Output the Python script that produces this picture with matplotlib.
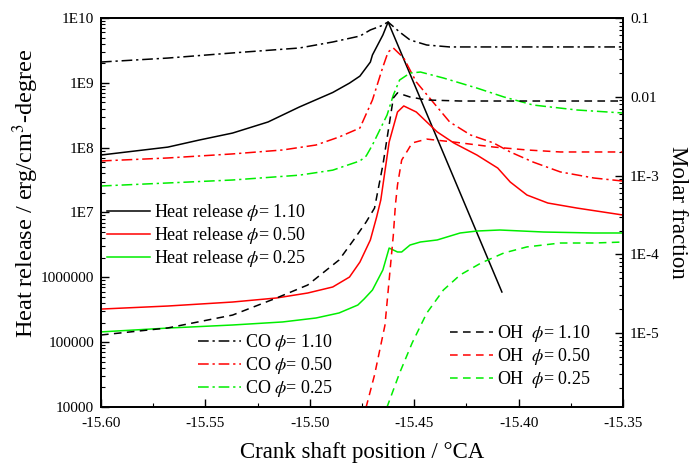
import matplotlib
matplotlib.use("Agg")
import matplotlib.pyplot as plt
from matplotlib.ticker import FixedLocator, FixedFormatter, LogLocator, NullFormatter, MultipleLocator

plt.rcParams['font.family'] = ['Liberation Serif', 'DejaVu Serif']
plt.rcParams['mathtext.fontset'] = 'stix'

# ---- heat release (left axis, erg/cm3-degree) ----
hr110_x = [-15.600, -15.568, -15.553, -15.537, -15.520, -15.505, -15.489, -15.481,
           -15.476, -15.471, -15.470, -15.465, -15.4625, -15.408]
hr110_y = [7.7e7, 1.02e8, 1.31e8, 1.68e8, 2.49e8, 4.24e8, 7.1e8, 9.9e8,
           1.27e9, 2.09e9, 2.69e9, 5.47e9, 8.67e9, 5.94e5]

hr050_x = [-15.600, -15.568, -15.537, -15.516, -15.501, -15.489, -15.481, -15.476,
           -15.471, -15.468, -15.466, -15.462, -15.458, -15.455, -15.449, -15.439,
           -15.431, -15.420, -15.410, -15.404, -15.396, -15.386, -15.372, -15.350]
hr050_y = [3.24e5, 3.61e5, 4.16e5, 4.80e5, 5.73e5, 7.10e5, 1.01e6, 1.72e6,
           3.77e6, 8.51e6, 1.56e7, 1.22e8, 3.55e8, 4.40e8, 3.55e8, 1.75e8,
           1.18e8, 7.71e7, 4.85e7, 2.95e7, 1.86e7, 1.40e7, 1.17e7, 9.14e6]

hr025_x = [-15.600, -15.568, -15.537, -15.513, -15.497, -15.486, -15.477, -15.474,
           -15.470, -15.465, -15.462, -15.458, -15.456, -15.452, -15.447, -15.439,
           -15.428, -15.420, -15.409, -15.388, -15.364, -15.350]
hr025_y = [1.44e5, 1.65e5, 1.84e5, 2.05e5, 2.36e5, 2.82e5, 3.74e5, 4.63e5,
           6.37e5, 1.30e6, 2.83e6, 2.46e6, 2.46e6, 3.15e6, 3.51e6, 3.77e6,
           4.83e6, 5.18e6, 5.37e6, 5.0e6, 4.83e6, 4.83e6]

# ---- CO molar fraction (right axis) ----
co110_x = [-15.600, -15.568, -15.537, -15.505, -15.489, -15.476, -15.471, -15.466,
           -15.4625, -15.457, -15.452, -15.444, -15.433, -15.412, -15.350]
co110_y = [0.0276, 0.0310, 0.0360, 0.0416, 0.0496, 0.0590, 0.0705, 0.0791,
           0.0889, 0.0664, 0.0526, 0.0454, 0.0429, 0.0429, 0.0429]

co050_x = [-15.600, -15.568, -15.537, -15.513, -15.497, -15.486, -15.476, -15.470,
           -15.465, -15.4625, -15.460, -15.455, -15.449, -15.441, -15.433, -15.423,
           -15.412, -15.404, -15.393, -15.380, -15.364, -15.350]
co050_y = [1.53e-3, 1.67e-3, 1.88e-3, 2.11e-3, 2.44e-3, 3.08e-3, 4.01e-3, 9.1e-3,
           2.39e-2, 3.70e-2, 4.16e-2, 3.10e-2, 1.54e-2, 8.57e-3, 4.78e-3, 3.27e-3,
           2.59e-3, 1.99e-3, 1.48e-3, 1.11e-3, 9.3e-4, 8.5e-4]

co025_x = [-15.600, -15.568, -15.537, -15.505, -15.489, -15.479, -15.476, -15.473,
           -15.470, -15.463, -15.460, -15.457, -15.452, -15.447, -15.436, -15.420,
           -15.407, -15.393, -15.372, -15.350]
co025_y = [7.36e-4, 8.04e-4, 8.77e-4, 1.01e-3, 1.17e-3, 1.44e-3, 1.53e-3, 1.77e-3,
           2.44e-3, 5.86e-3, 1.05e-2, 1.63e-2, 2.00e-2, 2.06e-2, 1.73e-2, 1.29e-2,
           9.93e-3, 7.85e-3, 6.79e-3, 6.22e-3]

# ---- OH molar fraction (right axis) ----
oh110_x = [-15.600, -15.568, -15.537, -15.516, -15.501, -15.486, -15.479, -15.473,
           -15.469, -15.465, -15.462, -15.460, -15.458, -15.452, -15.444, -15.428, -15.350]
oh110_y = [9.44e-6, 1.16e-5, 1.69e-5, 2.78e-5, 4.07e-5, 8.45e-5, 1.52e-4, 2.57e-4,
           3.86e-4, 1.36e-3, 4.38e-3, 9.64e-3, 1.12e-2, 9.93e-3, 9.10e-3, 8.83e-3, 8.83e-3]

oh050_x = [-15.475, -15.473, -15.469, -15.464, -15.462, -15.460, -15.459, -15.458,
           -15.456, -15.453, -15.451, -15.444, -15.431, -15.412, -15.396, -15.380, -15.350]
oh050_y = [7.85e-7, 1.15e-6, 2.93e-6, 1.26e-5, 4.71e-5, 1.75e-4, 4.22e-4, 7.57e-4,
           1.57e-3, 2.11e-3, 2.59e-3, 2.90e-3, 2.66e-3, 2.30e-3, 2.11e-3, 1.99e-3, 1.99e-3]

oh025_x = [-15.465, -15.463, -15.457, -15.451, -15.444, -15.436, -15.428, -15.418,
           -15.407, -15.396, -15.380, -15.364, -15.350]
oh025_y = [7.85e-7, 1.15e-6, 3.10e-6, 7.46e-6, 1.79e-5, 3.52e-5, 5.46e-5, 7.74e-5,
           1.04e-4, 1.24e-4, 1.39e-4, 1.39e-4, 1.43e-4]

left_ticks = [1e4, 1e5, 1e6, 1e7, 1e8, 1e9, 1e10]
left_labels = ['10000', '100000', '1000000', '1E7', '1E8', '1E9', '1E10']
right_ticks = [1e-5, 1e-4, 1e-3, 1e-2, 1e-1]
right_labels = ['1E-5', '1E-4', '1E-3', '0.01', '0.1']

BLACK, RED, GREEN = 'black', '#ff0000', '#00ee00'
DASHDOT = (0, (7, 2.5, 1.5, 2.5))
DASHED = (0, (5, 3.5))

fig = plt.figure(figsize=(6.92, 4.63), dpi=100)
ax = fig.add_axes([101 / 692, 1 - 407 / 463, 522 / 692, 389 / 463])
ax2 = ax.twinx()

lw = 1.1
h1, = ax.plot(hr110_x, hr110_y, color=BLACK, lw=lw)
h2, = ax.plot(hr050_x, hr050_y, color=RED, lw=lw)
h3, = ax.plot(hr025_x, hr025_y, color=GREEN, lw=lw)

c1, = ax2.plot(co110_x, co110_y, color=BLACK, lw=lw, ls=DASHDOT)
c2, = ax2.plot(co050_x, co050_y, color=RED, lw=lw, ls=DASHDOT)
c3, = ax2.plot(co025_x, co025_y, color=GREEN, lw=lw, ls=DASHDOT)

o1, = ax2.plot(oh110_x, oh110_y, color=BLACK, lw=lw, ls=DASHED)
o2, = ax2.plot(oh050_x, oh050_y, color=RED, lw=lw, ls=DASHED)
o3, = ax2.plot(oh025_x, oh025_y, color=GREEN, lw=lw, ls=DASHED)

ax.set_xlim(-15.60, -15.35)
ax.set_yscale('log')
ax.set_ylim(1e4, 1e10)
ax2.set_yscale('log')
ax2.set_ylim(1.15e-6, 0.1)

ax.xaxis.set_major_locator(MultipleLocator(0.05))
ax.xaxis.set_minor_locator(MultipleLocator(0.025))
ax.xaxis.set_major_formatter(plt.FuncFormatter(lambda v, p: '%.2f' % v))

ax.yaxis.set_major_locator(FixedLocator(left_ticks))
ax.yaxis.set_major_formatter(FixedFormatter(left_labels))
ax.yaxis.set_minor_locator(LogLocator(base=10, subs=range(2, 10), numticks=20))
ax.yaxis.set_minor_formatter(NullFormatter())
ax2.yaxis.set_major_locator(FixedLocator(right_ticks))
ax2.yaxis.set_major_formatter(FixedFormatter(right_labels))
ax2.yaxis.set_minor_locator(LogLocator(base=10, subs=range(2, 10), numticks=20))
ax2.yaxis.set_minor_formatter(NullFormatter())

for a in (ax, ax2):
    a.tick_params(which='major', direction='in', length=6, width=1, labelsize=11, pad=5)
    a.tick_params(which='minor', direction='in', length=3, width=0.8)
    for s in a.spines.values():
        s.set_linewidth(1.3)
ax.tick_params(axis='x', pad=7)
ax.tick_params(axis='both', which='both', top=False, right=False)
ax2.tick_params(axis='y', which='both', left=False, right=True)

ax.set_xlabel('Crank shaft position / °CA', fontsize=16.5)
ax.xaxis.set_label_coords(0.5, -0.09)
ax.set_ylabel('Heat release / erg/cm$^3$-degree', fontsize=17.5)
ax.yaxis.set_label_coords(-0.115, 0.55)
ax2.set_ylabel('Molar fraction', fontsize=16.5, rotation=270, va='center')
ax2.yaxis.set_label_coords(1.105, 0.5)

leg_kw = dict(frameon=False, fontsize=13, handlelength=2.4, handletextpad=0.2,
              labelspacing=0.12, borderpad=0, borderaxespad=0, loc='upper left',
              bbox_transform=fig.transFigure)
leg1 = ax2.legend([h1, h2, h3],
                  [r'Heat release $\phi$= 1.10', r'Heat release $\phi$= 0.50', r'Heat release $\phi$= 0.25'],
                  bbox_to_anchor=(107 / 692, 1 - 202 / 463), **leg_kw)
ax2.add_artist(leg1)
leg2 = ax2.legend([c1, c2, c3],
                  [r'CO $\phi$= 1.10', r'CO $\phi$= 0.50', r'CO $\phi$= 0.25'],
                  bbox_to_anchor=(198 / 692, 1 - 332 / 463), **leg_kw)
ax2.add_artist(leg2)
leg3 = ax2.legend([o1, o2, o3],
                  [r'OH  $\phi$= 1.10', r'OH  $\phi$= 0.50', r'OH  $\phi$= 0.25'],
                  bbox_to_anchor=(450 / 692, 1 - 323 / 463), **leg_kw)

fig.savefig('out.png', dpi=100)
